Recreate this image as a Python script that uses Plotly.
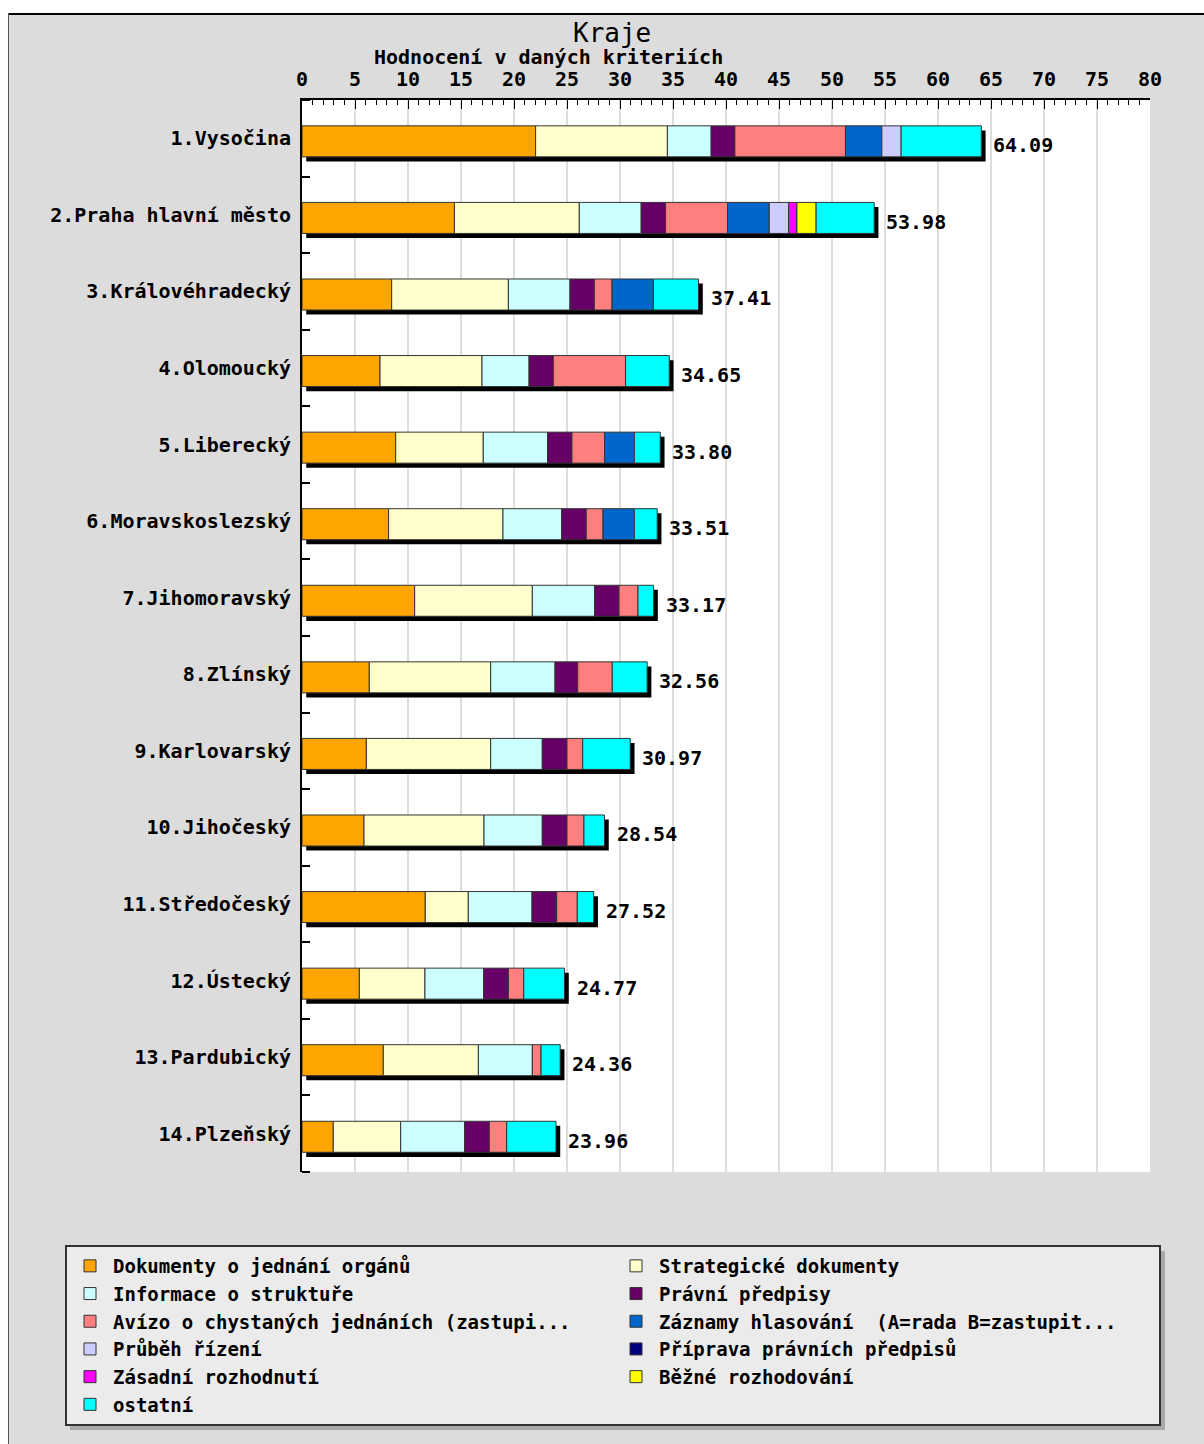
import plotly.graph_objects as go

regions = ["1.Vysočina", "2.Praha hlavní město", "3.Královéhradecký", "4.Olomoucký",
           "5.Liberecký", "6.Moravskoslezský", "7.Jihomoravský", "8.Zlínský",
           "9.Karlovarský", "10.Jihočeský", "11.Středočeský", "12.Ústecký",
           "13.Pardubický", "14.Plzeňský"]
totals = [64.09, 53.98, 37.41, 34.65, 33.80, 33.51, 33.17, 32.56, 30.97, 28.54, 27.52, 24.77, 24.36, 23.96]

dokumenty   = [22.04, 14.38, 8.46, 7.36, 8.84, 8.17, 10.63, 6.35, 6.07, 5.85, 11.63, 5.41, 7.67, 2.95]
strategicke = [12.43, 11.78, 11.01, 9.62, 8.26, 10.79, 11.10, 11.45, 11.73, 11.32, 4.06, 6.19, 8.97, 6.36]
informace   = [4.13, 5.84, 5.81, 4.44, 6.07, 5.54, 5.88, 6.07, 4.87, 5.50, 6.01, 5.54, 5.09, 6.04]
pravni      = [2.24, 2.30, 2.30, 2.29, 2.30, 2.32, 2.30, 2.14, 2.33, 2.33, 2.33, 2.33, 0, 2.32]
avizo       = [10.43, 5.85, 1.67, 6.82, 3.08, 1.58, 1.79, 3.26, 1.48, 1.60, 1.94, 1.45, 0.82, 1.64]
zaznamy     = [3.43, 3.93, 3.90, 0, 2.80, 2.95, 0, 0, 0, 0, 0, 0, 0, 0]
prubeh      = [1.82, 1.82, 0, 0, 0, 0, 0, 0, 0, 0, 0, 0, 0, 0]
priprava    = [0, 0, 0, 0, 0, 0, 0, 0, 0, 0, 0, 0, 0, 0]
zasadni     = [0, 0.79, 0, 0, 0, 0, 0, 0, 0, 0, 0, 0, 0, 0]
bezne       = [0, 1.81, 0, 0, 0, 0, 0, 0, 0, 0, 0, 0, 0, 0]
ostatni     = [7.57, 5.48, 4.26, 4.12, 2.45, 2.16, 1.47, 3.29, 4.49, 1.94, 1.55, 3.85, 1.81, 4.65]

series_names = ["Dokumenty o jednání orgánů", "Strategické dokumenty",
                "Informace o struktuře", "Právní předpisy",
                "Avízo o chystaných jednáních (zastupi...", "Záznamy hlasování  (A=rada B=zastupit...",
                "Průběh řízení", "Příprava právních předpisů",
                "Zásadní rozhodnutí", "Běžné rozhodování", "ostatní"]
series_values = [dokumenty, strategicke, informace, pravni, avizo, zaznamy,
                 prubeh, priprava, zasadni, bezne, ostatni]
series_colors = ["#FFA500", "#FFFFCC", "#CCFFFF", "#660066", "#FF7F7F", "#0066CC",
                 "#CCCCFF", "#000080", "#FF00FF", "#FFFF00", "#00FFFF"]

W, H = 1204, 1444
ML, MR, MT, MB = 302, 54, 100, 272
PW, PH = W - ML - MR, H - MT - MB


def px_x(p):
    return (p - ML) / PW


def px_y(p):
    return (H - MB - p) / PH


FONT = "DejaVu Sans Mono"
pos = list(range(len(regions)))
BW = 0.405

fig = go.Figure()

# drop shadow behind each bar
fig.add_trace(go.Bar(
    orientation="h", y=[p + 0.1 for p in pos], x=totals, base=0.4, width=BW,
    marker=dict(color="black", line=dict(width=0)), showlegend=False, hoverinfo="skip"))

cum = [0.0] * len(regions)
for name, vals, col in zip(series_names, series_values, series_colors):
    xs = [v if v > 0 else None for v in vals]
    fig.add_trace(go.Bar(
        orientation="h", y=[p + 0.04 for p in pos], x=xs, base=list(cum), width=BW,
        name=name, marker=dict(color=col, line=dict(color="#333333", width=1)),
        opacity=1))
    cum = [c + v for c, v in zip(cum, vals)]

for p, t in zip(pos, totals):
    fig.add_annotation(x=t, y=p, xref="x", yref="y", text=f"{t:.2f}", showarrow=False,
                       xanchor="left", yanchor="middle", xshift=10, yshift=-7,
                       font=dict(family=FONT, size=20, color="black", weight="bold"))

# titles
fig.add_annotation(x=px_x(612), y=px_y(33), xref="paper", yref="paper", text="Kraje",
                   showarrow=False, xanchor="center", yanchor="middle",
                   font=dict(family=FONT, size=26, color="black"))
fig.add_annotation(x=px_x(548), y=px_y(57), xref="paper", yref="paper",
                   text="Hodnocení v daných kriteriích", showarrow=False,
                   xanchor="center", yanchor="middle",
                   font=dict(family=FONT, size=20, color="black", weight="bold"))

shapes = [
    dict(type="rect", xref="paper", yref="paper", x0=px_x(0), x1=px_x(W), y0=px_y(0), y1=px_y(13),
         fillcolor="white", line=dict(width=0), layer="above"),
    dict(type="rect", xref="paper", yref="paper", x0=px_x(0), x1=px_x(8), y0=px_y(0), y1=px_y(H),
         fillcolor="white", line=dict(width=0), layer="above"),
    dict(type="line", xref="paper", yref="paper", x0=px_x(8), x1=px_x(W), y0=px_y(14), y1=px_y(14),
         line=dict(color="black", width=2), layer="above"),
    dict(type="line", xref="paper", yref="paper", x0=px_x(8.5), x1=px_x(8.5), y0=px_y(13), y1=px_y(H),
         line=dict(color="#555555", width=1), layer="above"),
    # legend shadow
    dict(type="rect", xref="paper", yref="paper", x0=px_x(70), x1=px_x(1165), y0=px_y(1251), y1=px_y(1430),
         fillcolor="#a8a8a8", line=dict(width=0), layer="below"),
]

fig.update_layout(
    width=W, height=H, barmode="overlay",
    margin=dict(l=ML, r=MR, t=MT, b=MB, autoexpand=False),
    paper_bgcolor="#dcdcdc", plot_bgcolor="white",
    font=dict(family=FONT, size=20, color="black"),
    shapes=shapes,
    xaxis=dict(side="top", range=[0, 80], tickmode="linear", tick0=0, dtick=5,
               ticks="inside", ticklen=9, tickwidth=1, tickcolor="black",
               showline=True, linecolor="black", linewidth=2,
               showgrid=True, gridcolor="#dddddd", gridwidth=2, zeroline=False,
               ticklabelstandoff=4,
               tickfont=dict(family=FONT, size=20, color="black", weight="bold"),
               minor=dict(tickmode="linear", tick0=0, dtick=1, ticks="inside", ticklen=5,
                          tickwidth=1, tickcolor="black", showgrid=False)),
    yaxis=dict(range=[13.5, -0.5], tickmode="array", tickvals=pos, ticktext=regions,
               ticks="", showgrid=False, zeroline=False,
               showline=True, linecolor="black", linewidth=2,
               ticklabelstandoff=5,
               tickfont=dict(family=FONT, size=20, color="black", weight="bold"),
               minor=dict(tickmode="linear", tick0=0.5, dtick=1, ticks="inside", ticklen=8,
                          tickwidth=2, tickcolor="black", showgrid=False)),
    legend=dict(orientation="h", x=px_x(65), y=px_y(1245), xanchor="left", yanchor="top",
                bgcolor="#ebebeb", bordercolor="#333333", borderwidth=2,
                itemwidth=36,
                entrywidth=495, entrywidthmode="pixels", traceorder="normal",
                font=dict(family=FONT, size=19, color="black", weight="bold")),
    showlegend=True,
)

fig.write_html("out.html", config={"displayModeBar": False},
               post_script="document.body.style.margin='0';document.body.style.overflow='hidden';")
